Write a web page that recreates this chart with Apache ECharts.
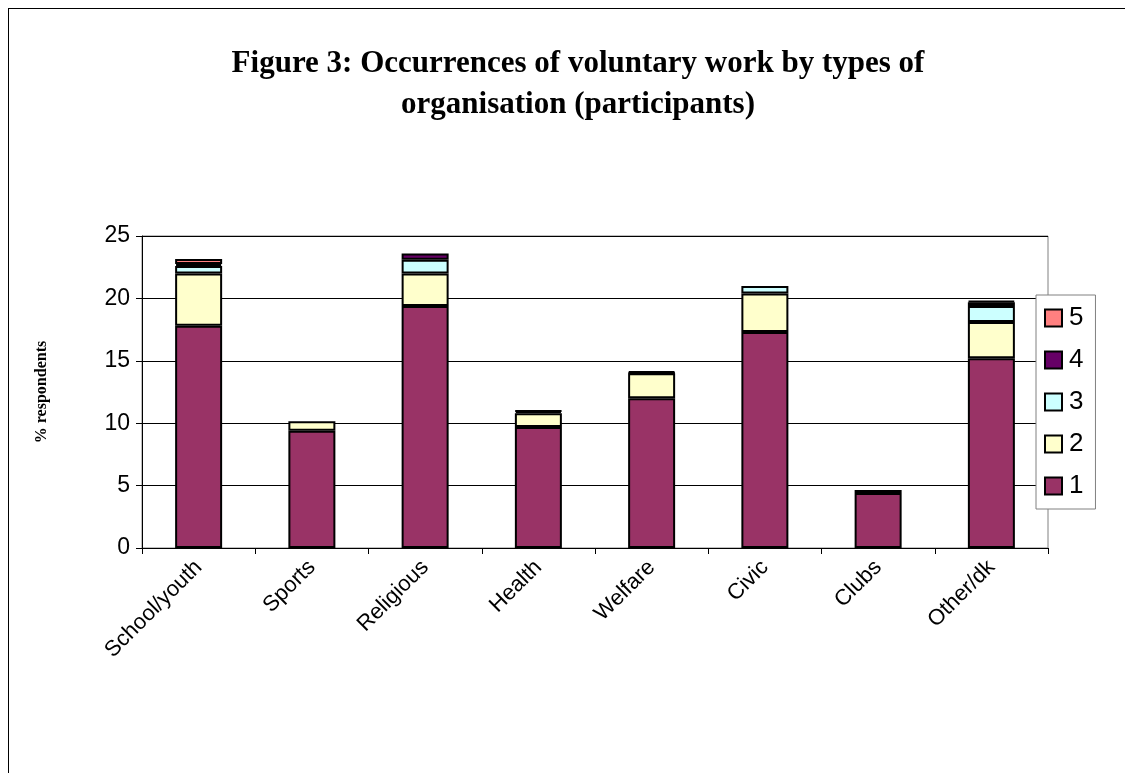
<!DOCTYPE html>
<html>
<head>
<meta charset="utf-8">
<script src="https://cdn.jsdelivr.net/npm/echarts@6/dist/echarts.min.js"></script>
<style>
  body { margin: 0; background: #fff; }
  #frame { position: absolute; left: 8px; top: 8px; width: 1200px; height: 900px;
           border-top: 1px solid #000; border-left: 1px solid #000; }
  #chart { position: absolute; left: 0; top: 0; width: 1125px; height: 773px; }
</style>
</head>
<body>
<div id="frame"></div>
<div id="chart"></div>
<script>
// categories and stacked values (% respondents) per occurrence
const categories = ['School/youth', 'Sports', 'Religious', 'Health', 'Welfare', 'Civic', 'Clubs', 'Other/dk'];
const occ1 = [17.8, 9.4, 19.4, 9.7, 12.0, 17.3, 4.4, 15.2];
const occ2 = [4.2, 0.75, 2.6, 1.1, 2.0, 3.1, 0.25, 2.9];
const occ3 = [0.6, 0, 1.1, 0.15, 0.05, 0.6, 0, 1.3];
const occ4 = [0.15, 0, 0.5, 0.05, 0.1, 0, 0, 0.3];
const occ5 = [0.4, 0, 0, 0, 0, 0, 0, 0.1];
const yTicks = [0, 5, 10, 15, 20, 25];

const mychart = echarts.init(document.getElementById('chart'));

function mkSeries(name, data, color) {
  return {
    name: name,
    type: 'bar',
    stack: 'total',
    barWidth: 47,
    // empty segments are not drawn at all
    data: data.map(v => (v === 0 ? '-' : v)),
    itemStyle: { color: color, borderColor: '#000', borderWidth: 2 }
  };
}

mychart.setOption({
  animation: false,
  title: {
    text: 'Figure 3: Occurrences of voluntary work by types of\norganisation (participants)',
    left: 573,
    textAlign: 'center',
    top: 38,
    textStyle: { fontFamily: 'Liberation Serif', fontWeight: 'bold', fontSize: 31, lineHeight: 41, color: '#000' }
  },
  legend: {
    orient: 'vertical',
    left: 1036,
    top: 295,
    padding: [10, 12, 10, 8],
    data: ['5', '4', '3', '2', '1'],
    icon: 'rect',
    itemWidth: 17,
    itemHeight: 17,
    itemGap: 16,
    borderColor: '#808080',
    borderWidth: 1,
    backgroundColor: '#fff',
    itemStyle: { borderColor: '#000', borderWidth: 2 },
    textStyle: { fontFamily: 'Liberation Sans', fontSize: 26, color: '#000', padding: [0, 0, 0, 2] }
  },
  grid: {
    left: 142,
    right: 77,
    top: 236,
    bottom: 225,
    show: true,
    borderColor: '#808080',
    borderWidth: 1
  },
  xAxis: {
    type: 'category',
    data: categories,
    axisLine: { lineStyle: { color: '#000', width: 1 } },
    axisTick: { show: true, alignWithLabel: false, length: 6, lineStyle: { color: '#000' } },
    axisLabel: { rotate: 45, fontFamily: 'Liberation Sans', fontSize: 22, color: '#000', margin: 16 }
  },
  yAxis: {
    type: 'value',
    min: yTicks[0],
    max: yTicks[yTicks.length - 1],
    interval: 5,
    name: '% respondents',
    nameLocation: 'middle',
    nameGap: 92,
    nameRotate: 90,
    nameTextStyle: { fontFamily: 'Liberation Serif', fontWeight: 'bold', fontSize: 16, color: '#000' },
    axisLine: { show: true, lineStyle: { color: '#000', width: 1 } },
    axisTick: { show: true, length: 6, lineStyle: { color: '#000' } },
    axisLabel: { fontFamily: 'Liberation Sans', fontSize: 23, color: '#000', margin: 12 },
    splitLine: { lineStyle: { color: '#000', width: 1 } }
  },
  series: [
    mkSeries('1', occ1, '#993366'),
    mkSeries('2', occ2, '#FFFFCC'),
    mkSeries('3', occ3, '#CCFFFF'),
    mkSeries('4', occ4, '#660066'),
    mkSeries('5', occ5, '#FF8080')
  ]
});
</script>
</body>
</html>
